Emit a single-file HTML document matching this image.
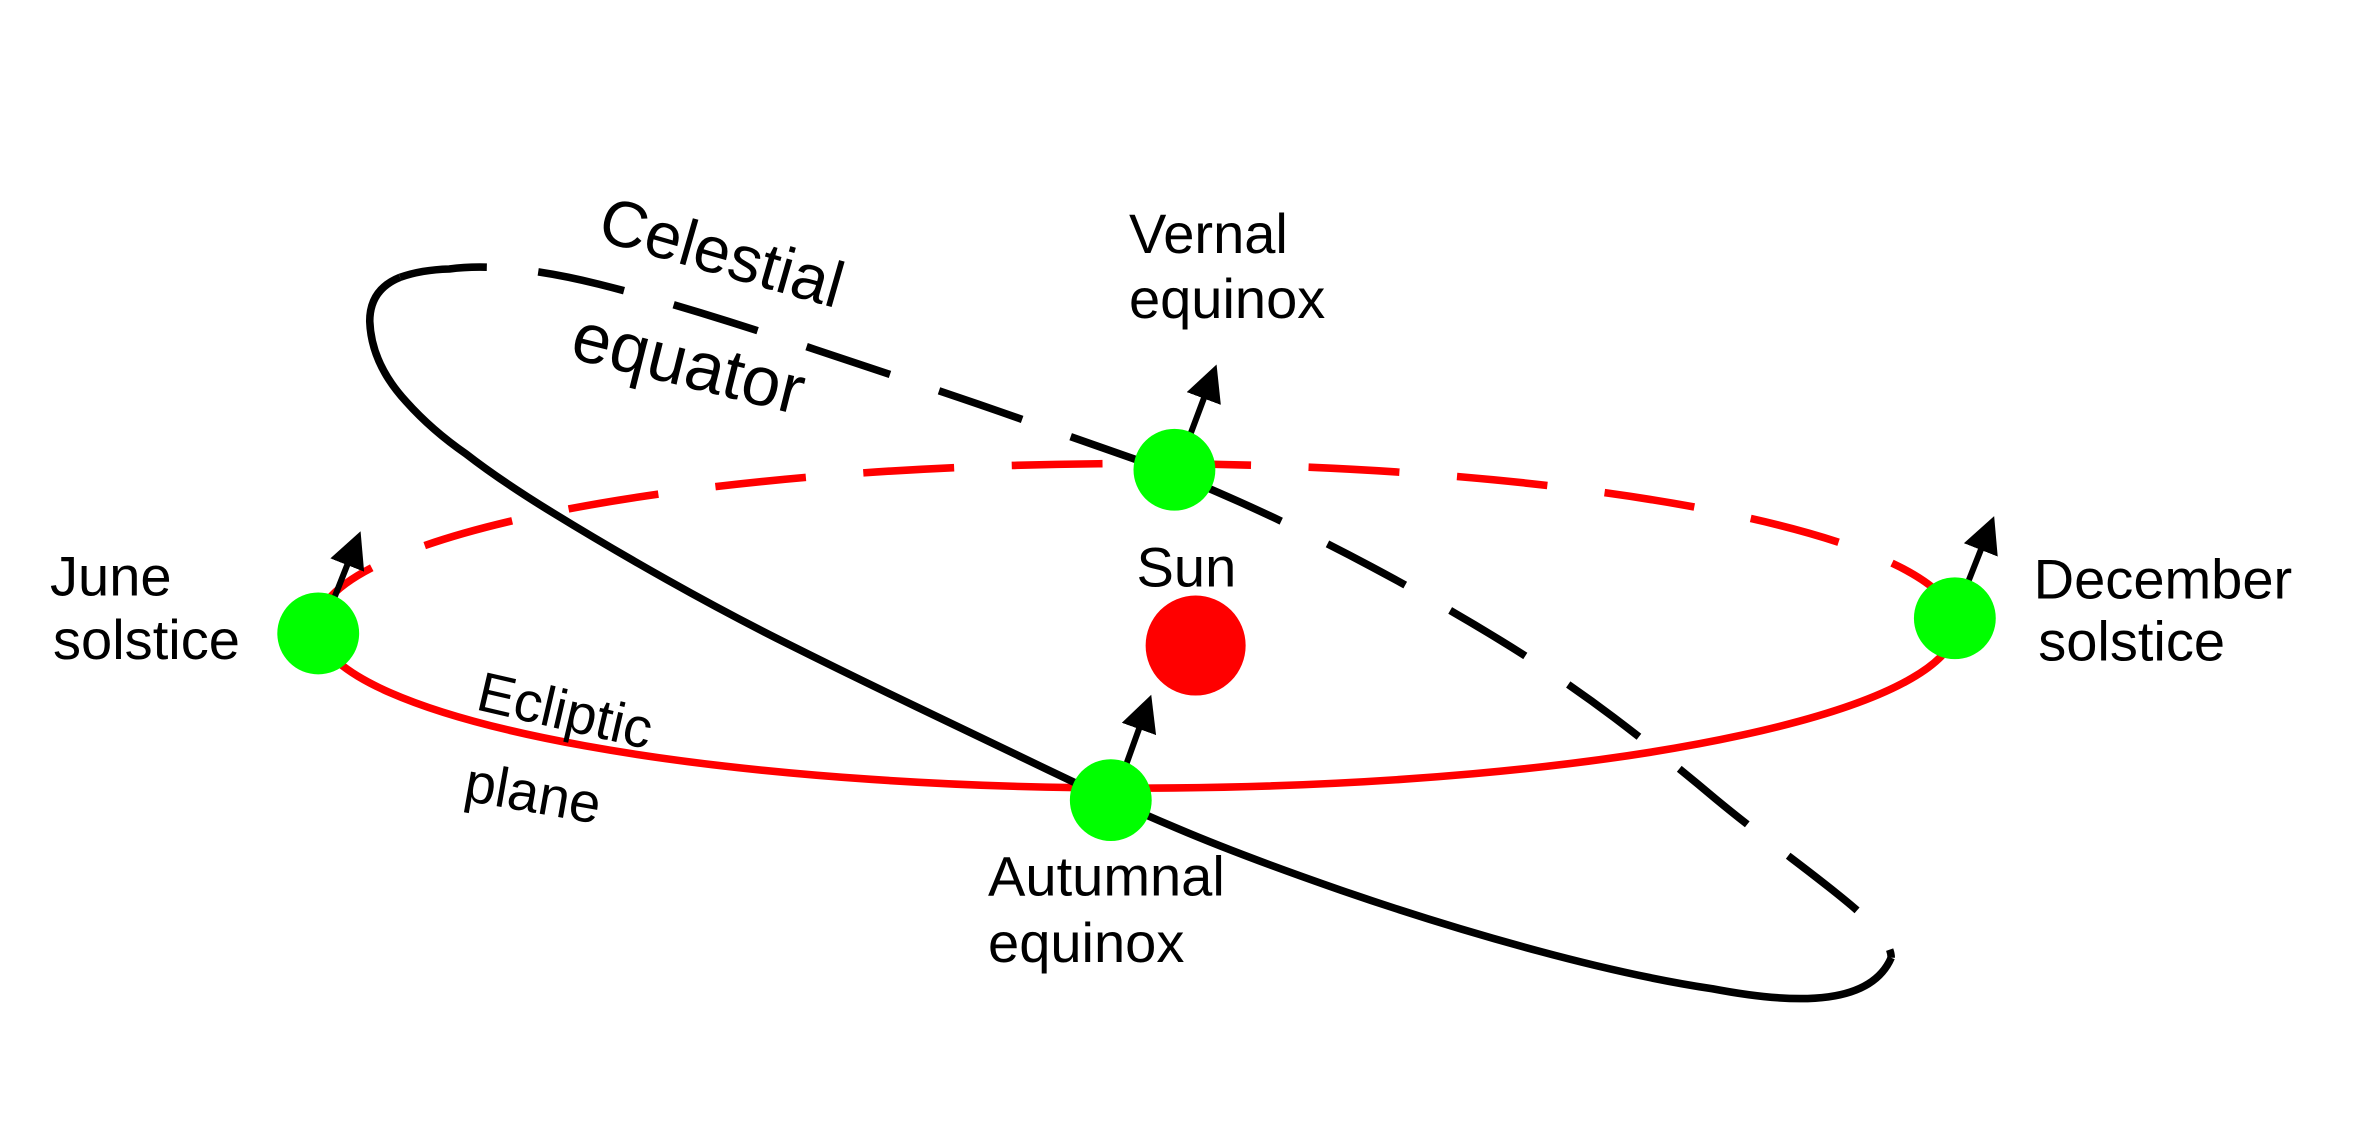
<!DOCTYPE html>
<html><head><style>
html,body{margin:0;padding:0;background:#fff;}
svg{display:block;}
text{font-family:"Liberation Sans",Arial,sans-serif;fill:#000;}
</style></head><body>
<svg width="2364" height="1125" viewBox="0 0 1560 742.4" preserveAspectRatio="none" xmlns="http://www.w3.org/2000/svg" font-size="37">
<defs>
<marker id="ah" markerWidth="6" markerHeight="6" refX="4" refY="3" orient="auto" markerUnits="strokeWidth">
<path d="M0,0 L6,3 L0,6 Z" fill="#000"/>
</marker>
</defs>
<!-- ecliptic -->
<path d="M210,418 A540,107 0 0 1 1290,408" fill="none" stroke="#f00" stroke-width="5" stroke-dasharray="60,38"/>
<path d="M210,418 A540,107 0 0 0 1290,408" fill="none" stroke="#f00" stroke-width="5"/>
<!-- celestial equator -->
<path d="M264,183 Q244,191 244,212 Q245,240 268,265 Q285,284 307.5,299.5 Q330,317 365,338.5 Q400,360 440,382.5 Q480,405 520,425 Q560,445 605,466.5 Q650,488 691.5,508 Q733,528 776.5,546.5 Q820,565 885,587.5 Q950,610 1015,627.5 Q1080,645 1130,652.5 C1190,664 1235,662 1248,632" fill="none" stroke="#000" stroke-width="5"/>
<path d="M264,183 Q278,178 296.5,177.5 Q315,175 340,177.5 Q365,180 395,187.5 Q425,195 462.5,206.5 Q500,218 537.5,230.5 Q575,243 612.5,255.5 Q650,268 685,280.5 Q720,293 747.5,302.5 Q775,312 817.5,331 Q860,350 905,374 Q950,398 990,422.5 Q1030,447 1065,473.5 Q1100,500 1132.5,527.5 C1190,575 1248,610 1248,632" fill="none" stroke="#000" stroke-width="5" stroke-dasharray="58,34"/>
<!-- arrows -->
<g stroke="#000" stroke-width="4" marker-end="url(#ah)">
<line x1="785" y1="288" x2="800" y2="248"/>
<line x1="220" y1="396" x2="235" y2="358"/>
<line x1="1298" y1="386" x2="1313" y2="348"/>
<line x1="743" y1="505" x2="757" y2="466"/>
</g>
<circle cx="775" cy="310" r="27" fill="#0f0"/>
<circle cx="210" cy="418" r="27" fill="#0f0"/>
<circle cx="1290" cy="408" r="27" fill="#0f0"/>
<circle cx="733" cy="528" r="27" fill="#0f0"/>
<circle cx="789" cy="426" r="33" fill="#f00"/>
<text transform="translate(393,158) rotate(16)" style="font-size:43px">Celestial</text>
<text transform="translate(375,236) rotate(14)" style="font-size:46px">equator</text>
<text x="745" y="167">Vernal</text>
<text x="745" y="210">equinox</text>
<text x="33" y="393">June</text>
<text x="35" y="435">solstice</text>
<text x="750" y="387">Sun</text>
<text x="1342" y="395">December</text>
<text x="1345" y="436">solstice</text>
<text transform="translate(313,468) rotate(13)">Ecliptic</text>
<text transform="translate(305,528) rotate(10)">plane</text>
<text x="652" y="591">Autumnal</text>
<text x="652" y="635">equinox</text>
</svg>
</body></html>
